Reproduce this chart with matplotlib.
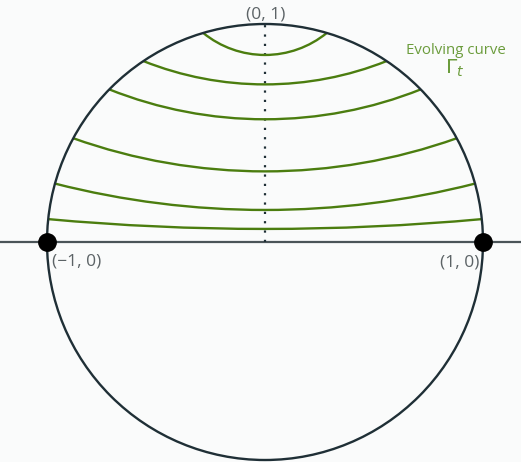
#! /usr/bin/env python3

import numpy as np
import matplotlib
matplotlib.use("Agg")
import matplotlib.pyplot as plt
from matplotlib.patches import Circle, Arc

plt.rcParams['font.family'] = ['Open Sans', 'DejaVu Sans']
plt.rcParams['mathtext.fontset'] = 'dejavusans'

# heights where each evolving curve meets the unit circle, and its height at x = 0
curve_end_heights = [0.959, 0.830, 0.700, 0.476, 0.268, 0.105]
curve_mid_heights = [0.858, 0.723, 0.563, 0.324, 0.147, 0.060]

marked_points = [(-1, 0), (1, 0)]
point_labels = ["(\u22121, 0)", "(1, 0)"]
top_label = "(0, 1)"
curve_label = "Evolving curve"

bg = "#fafbfb"
dark = "#1f2f36"
green = "#4b7d0f"
label_green = "#6b9c3c"
gray = "#5c6366"


def main():

    fig = plt.figure(figsize=(5.21, 4.62), dpi=100, facecolor=bg)
    ax = fig.add_axes([0, 0, 1, 1])
    ax.set_facecolor(bg)
    ax.set_xlim(-265 / 218, (521 - 265) / 218)
    ax.set_ylim((242 - 462) / 218, 242 / 218)
    ax.axis("off")

    # horizontal axis and dotted vertical
    ax.plot([-1.3, 1.3], [0, 0], color="#4a5458", lw=1.6, zorder=1)
    ax.plot([0, 0], [0, 1], color=dark, lw=1.6, ls=(0, (1, 3.2)), zorder=1)

    ax.add_patch(Circle((0, 0), 1, fill=False, ec=dark, lw=1.7, zorder=3))

    # evolving curves as circular arcs through the two ends and the middle
    for b, m in zip(curve_end_heights, curve_mid_heights):
        a = np.sqrt(1 - b ** 2)
        s = b - m
        r = (a ** 2 + s ** 2) / (2 * s)
        cy = m + r
        ang = np.degrees(np.arctan2(b - cy, a))
        ax.add_patch(Arc((0, cy), 2 * r, 2 * r, theta1=180 - ang, theta2=360 + ang,
                         ec=green, lw=1.7, zorder=2))

    xs = [p[0] for p in marked_points]
    ys = [p[1] for p in marked_points]
    ax.plot(xs, ys, "o", color="black", ms=12.5, zorder=4)

    ax.text(0.005, 1.045, top_label, ha="center", va="center", fontsize=12.5, color=gray)
    ax.text(-0.975, -0.088, point_labels[0], ha="left", va="center", fontsize=12.5, color=gray)
    ax.text(0.985, -0.092, point_labels[1], ha="right", va="center", fontsize=12.5, color=gray)

    ax.text(0.876, 0.878, curve_label, ha="center", va="center", fontsize=10.8, color=label_green)
    ax.text(0.826, 0.772, r"$\Gamma_t$", ha="left", va="baseline", fontsize=14.5, color=label_green)

    fig.savefig("out.png", dpi=100, facecolor=bg)
    plt.close(fig)


if __name__ == "__main__":
    main()
